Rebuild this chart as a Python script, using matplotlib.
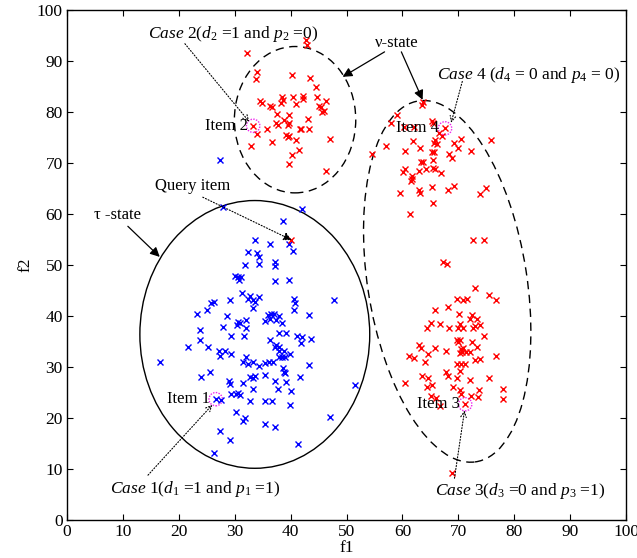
import matplotlib
matplotlib.use("Agg")
import matplotlib.pyplot as plt
from matplotlib.patches import Ellipse

plt.rcParams['font.family'] = ['Liberation Serif', 'DejaVu Serif']
plt.rcParams['mathtext.fontset'] = 'custom'
plt.rcParams['mathtext.rm'] = 'Liberation Serif'
plt.rcParams['mathtext.it'] = 'Liberation Serif:italic'

# tau-state cluster (blue)
blue_x = [28.0, 42.1, 38.6, 33.6, 36.3, 39.7, 40.4, 32.4, 34.0, 34.3, 37.3, 37.3, 34.3, 31.8,
          30.0, 30.6, 31.2, 30.8, 37.3, 39.8, 31.3, 32.7, 32.4, 33.3, 34.3, 33.7, 33.2, 29.1,
          25.8, 26.3, 25.1, 23.3, 40.6, 40.8, 40.6, 47.7, 43.3, 28.7, 35.9, 36.5, 37.1, 37.9,
          36.3, 35.4, 37.4, 38.4, 30.6, 30.5, 30.9, 32.0, 32.1, 27.9, 23.8,
          38.0, 39.1, 41.1, 42.1, 41.8, 43.6, 29.3, 31.7, 23.8, 36.4, 21.7, 25.2, 27.2, 28.2,
          27.3, 29.3, 37.4, 37.9, 37.3, 38.0, 38.8, 38.4, 39.0, 38.0, 39.9, 32.0, 31.5, 32.4,
          33.3, 34.3, 35.5, 36.1, 36.8, 16.6, 43.3, 38.6, 38.8, 39.0, 23.9, 25.5, 32.7, 33.6,
          33.2, 35.5, 37.3, 39.2, 41.6, 29.0, 29.2, 31.5, 51.5, 33.3, 37.7, 40.1, 29.4, 30.2,
          30.6, 30.9, 26.6, 27.5, 32.7, 35.4, 36.7, 39.9, 30.2, 31.8, 31.5, 47.1, 35.5, 37.3,
          27.3, 29.1, 41.4, 26.3, 27.3]
blue_y = [61.3, 60.9, 58.7, 55.0, 54.1, 54.2, 52.8, 52.6, 52.3, 51.6, 50.6, 49.9, 50.3, 50.0,
          47.9, 47.6, 47.7, 47.1, 46.8, 47.0, 44.6, 44.0, 43.3, 43.1, 43.7, 42.7, 41.5, 43.2,
          42.6, 42.7, 41.2, 40.5, 43.3, 42.6, 41.2, 43.1, 40.3, 40.0, 40.2, 40.5, 40.4, 40.0,
          39.5, 39.1, 39.2, 38.7, 38.9, 38.2, 38.6, 39.2, 37.6, 37.9, 37.3,
          36.7, 36.7, 36.1, 35.9, 34.8, 35.5, 36.1, 36.1, 35.3, 35.3, 34.0, 34.0, 33.2, 33.1,
          32.2, 32.5, 34.3, 34.0, 33.9, 33.2, 33.1, 32.0, 31.9, 31.9, 32.5, 31.9, 30.9, 30.6,
          30.9, 30.2, 30.7, 31.0, 31.0, 31.0, 30.5, 29.9, 29.0, 28.8, 28.0, 29.1, 28.1, 28.2,
          27.8, 28.4, 27.3, 27.1, 28.0, 27.3, 26.7, 26.8, 26.4, 25.6, 25.6, 25.4, 24.7, 24.8,
          25.0, 24.5, 23.7, 23.5, 23.4, 23.4, 23.4, 22.5, 21.2, 20.1, 19.4, 20.3, 18.8, 18.2,
          17.4, 15.6, 15.0, 13.1, 70.6]

# nu-state clusters (red)
red_x = [42.7, 42.9, 32.2, 34.0, 33.9, 40.3, 43.5, 44.6, 34.6, 34.8, 36.3, 36.6, 38.5, 38.7,
         38.3, 40.5, 40.9, 42.2, 42.3, 44.7, 46.4, 45.1, 45.4, 45.6, 45.9, 37.5, 39.8, 37.4,
         37.7, 38.9, 39.8, 39.5, 43.1, 35.7, 33.3, 34.0, 41.6, 41.9, 43.3, 39.2, 39.5, 39.8,
         36.6, 41.0, 47.0, 33.0, 41.5, 40.3, 39.7, 46.3,
         63.6, 63.5, 59.0, 58.0, 65.3, 65.4, 60.2, 62.1, 67.6, 66.6, 67.0, 65.9, 66.1, 65.7,
         61.8, 69.2, 70.4, 70.0, 75.8, 57.1, 60.5, 63.2, 65.3, 65.6, 72.3, 68.3, 68.9, 54.6,
         63.3, 63.6, 65.5, 65.5, 65.9, 64.2, 62.9, 66.9, 60.5, 60.1, 61.7, 61.7, 61.5, 65.3,
         69.3, 68.1, 74.9, 73.9, 59.6, 63.0, 63.2, 65.4, 61.4,
         72.7, 74.5, 67.3, 68.0, 73.0, 75.4, 76.8, 69.7, 70.9, 71.5, 65.8, 68.1, 70.1, 72.4,
         73.4, 72.0, 65.1, 64.4, 66.8, 68.3, 70.2, 70.0, 70.8, 72.9, 73.9, 72.7, 74.6, 69.7,
         70.2, 70.0, 72.4, 62.9, 63.3, 65.8, 67.8, 70.4, 70.9, 71.3, 70.7, 72.1, 73.3, 70.3,
         61.1, 62.0, 64.5, 64.1, 76.7, 72.9, 73.9, 69.8, 70.4, 71.2, 70.2, 67.7, 68.1, 63.5,
         64.5, 69.7, 72.1, 75.4, 60.5, 64.4, 65.2, 69.1, 70.2, 70.5, 73.6, 78.0, 65.1, 66.0,
         66.8, 72.3, 73.5, 78.0, 71.2, 68.9]
red_y = [94.2, 93.1, 91.5, 87.9, 86.5, 87.3, 86.6, 85.0, 82.2, 81.8, 81.2, 81.0, 83.0, 82.4,
         81.8, 82.9, 81.6, 83.1, 82.5, 82.9, 82.2, 81.2, 80.9, 80.0, 80.3, 79.7, 79.4, 77.8,
         77.5, 78.4, 77.9, 77.5, 78.6, 76.7, 77.3, 75.7, 76.6, 76.7, 76.6, 75.5, 75.2, 75.3,
         74.1, 74.5, 74.7, 73.4, 72.5, 71.6, 69.8, 68.4,
         82.0, 81.4, 79.5, 77.9, 78.3, 77.8, 77.1, 77.1, 76.8, 75.8, 75.3, 74.5, 73.7, 74.0,
         74.4, 74.0, 74.8, 73.0, 74.5, 73.3, 72.4, 72.9, 72.1, 72.2, 72.4, 71.8, 71.0, 71.8,
         70.3, 70.3, 70.5, 69.1, 68.8, 68.8, 68.5, 68.0, 68.8, 68.3, 67.5, 66.9, 66.5, 65.4,
         65.5, 64.7, 65.2, 63.9, 64.2, 64.7, 64.2, 62.1, 60.1,
         54.9, 55.0, 50.5, 50.2, 45.5, 44.1, 43.1, 43.3, 43.1, 43.3, 41.2, 41.7, 40.5, 40.3,
         39.5, 39.4, 38.6, 37.6, 38.4, 37.6, 38.4, 37.6, 37.6, 38.0, 38.2, 37.6, 36.0, 35.4,
         35.3, 35.0, 35.0, 34.3, 33.7, 33.7, 33.2, 33.5, 33.7, 33.0, 33.0, 33.0, 33.9, 32.7,
         32.2, 31.7, 32.5, 30.9, 32.2, 31.4, 31.6, 30.6, 30.6, 30.6, 29.3, 29.0, 28.2, 28.2,
         27.8, 27.8, 27.5, 27.8, 26.8, 26.0, 26.5, 26.1, 25.5, 24.8, 25.5, 25.6, 24.3, 23.9,
         22.4, 24.3, 24.1, 23.7, 22.7, 9.3]

query_item = (40.0, 55.0)
item_names = ["Item 1", "Item 2", "Item 3", "Item 4"]
item_x = [26.6, 33.3, 71.2, 67.6]
item_y = [23.7, 77.3, 22.7, 76.8]

case_labels = [r"$\mathit{Case}$ 1($d_1$ =1 and $p_1$ =1)",
               r"$\mathit{Case}$ 2($d_2$ =1 and $p_2$ =0)",
               r"$\mathit{Case}$ 3($d_3$ =0 and $p_3$ =1)",
               r"$\mathit{Case}$ 4 ($d_4$ = 0 and $p_4$ = 0)"]
case_text_pos = [(23.0, 6.1), (29.8, 95.4), (81.1, 5.6), (82.5, 87.3)]
case_arrow_from = [(14.5, 8.8), (21.1, 93.4), (69.3, 8.2), (70.7, 86.0)]
case_arrow_to = [(26.0, 22.6), (32.6, 78.1), (71.1, 21.5), (68.7, 77.9)]

fig = plt.figure(figsize=(6.37, 5.58), dpi=100)
ax = fig.add_axes([0.105, 0.068, 0.878, 0.914])

ax.plot(blue_x, blue_y, 'x', color='blue', markersize=4.5, markeredgewidth=1.0)
ax.plot(red_x, red_y, 'x', color='red', markersize=4.5, markeredgewidth=1.0)
ax.plot(*query_item, 'x', color='red', markersize=4.5, markeredgewidth=1.0)

# state regions
ax.add_patch(Ellipse((33.6, 36.4), 41.1, 52.5, fill=False, color='black', lw=1.0))
ax.add_patch(Ellipse((40.8, 78.5), 21.7, 28.7, fill=False, color='black', lw=1.0,
                     linestyle=(0, (6, 4))))
ax.add_patch(Ellipse((68.0, 46.8), 28.5, 71.5, angle=8.0, fill=False, color='black', lw=1.0,
                     linestyle=(0, (6, 4))))

# highlighted items
for name, x, y in zip(item_names, item_x, item_y):
    ax.add_patch(Ellipse((x, y), 2.4, 2.6, fill=False, color='#ee22ee', lw=1.0,
                         linestyle=(0, (1, 1))))
    ax.text(x - 1.0, y, name, ha='right', va='center', fontsize=12)

dotted = dict(arrowstyle='->', color='black', lw=0.8, linestyle=':', shrinkA=0, shrinkB=0)
solid = dict(arrowstyle='-|>', color='black', lw=0.9, mutation_scale=14, shrinkA=0, shrinkB=0)

for label, pos, src, dst in zip(case_labels, case_text_pos, case_arrow_from, case_arrow_to):
    ax.text(pos[0], pos[1], label, ha='center', va='center', fontsize=12.5)
    ax.annotate("", xy=dst, xytext=src, arrowprops=dotted)

ax.text(22.5, 65.5, "Query item", ha='center', va='center', fontsize=12)
ax.annotate("", xy=(40.2, 54.9), xytext=(24.3, 63.3),
            arrowprops=dict(dotted, arrowstyle='-|>', mutation_scale=12))

ax.text(9.1, 59.8, "\u03c4 -state", ha='center', va='center', fontsize=12)
ax.annotate("", xy=(16.6, 51.6), xytext=(10.9, 57.6), arrowprops=solid)

ax.text(58.9, 93.5, "\u03bd-state", ha='center', va='center', fontsize=12)
ax.annotate("", xy=(49.3, 86.9), xytext=(56.8, 91.8), arrowprops=solid)
ax.annotate("", xy=(63.6, 82.4), xytext=(59.8, 91.8), arrowprops=solid)

ax.set_xlim(0, 100)
ax.set_ylim(0, 100)
ax.set_xticks(range(0, 101, 10))
ax.set_yticks(range(0, 101, 10))
ax.tick_params(direction='in', top=True, right=True, length=4, labelsize=12.5, pad=3)
ax.set_xlabel("f1", fontsize=12.5, labelpad=0)
ax.set_ylabel("f2", fontsize=12.5, labelpad=2)
for s in ax.spines.values():
    s.set_linewidth(1.0)

fig.savefig("out.png", dpi=100)
